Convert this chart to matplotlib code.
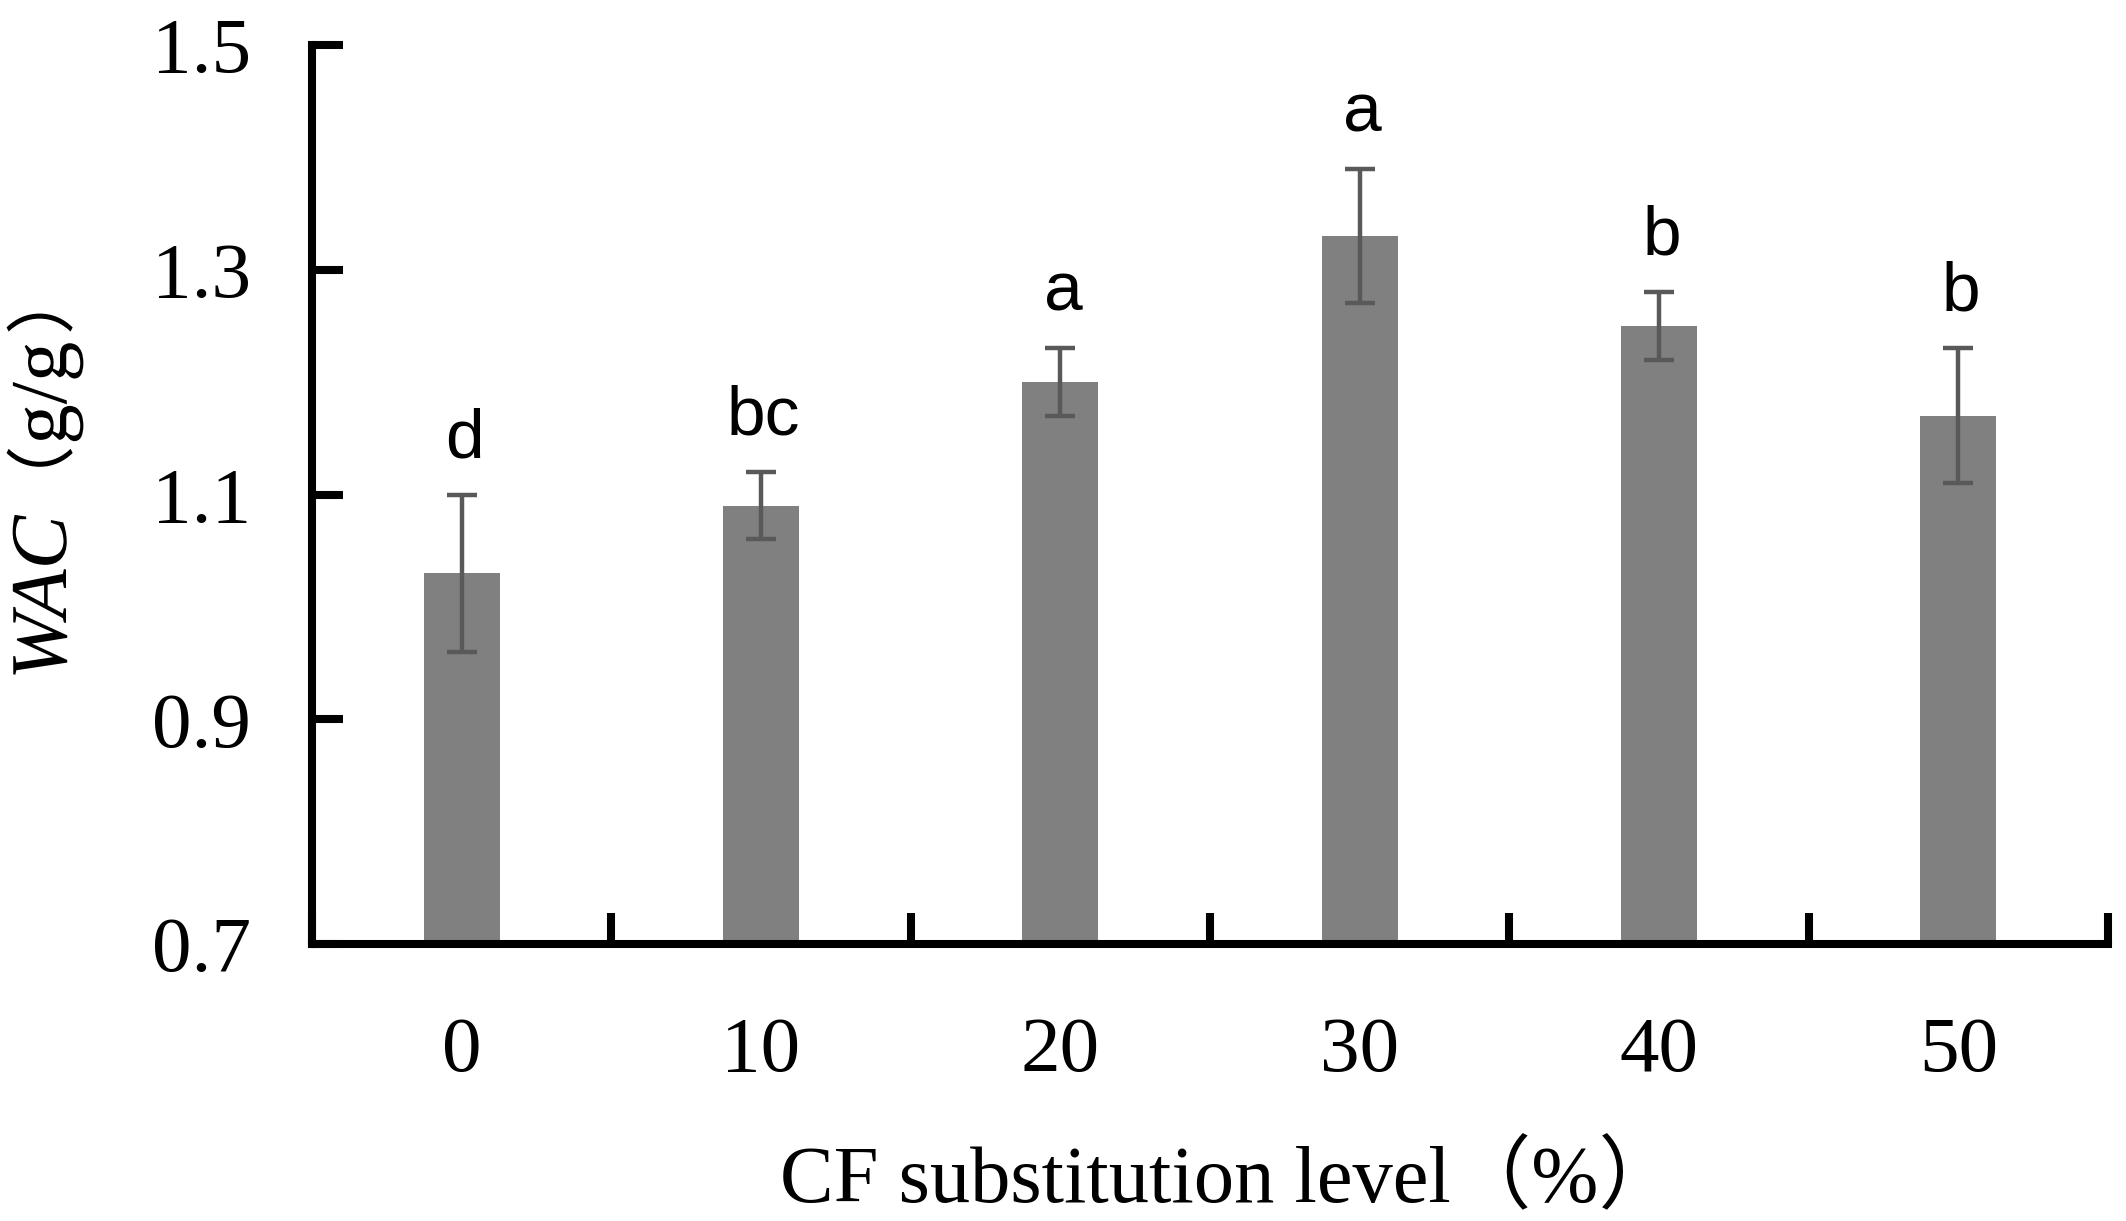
import matplotlib
matplotlib.use("Agg")
import matplotlib.pyplot as plt
import matplotlib.patheffects as pe
from matplotlib.font_manager import FontProperties, findfont, get_font
import numpy as np

# ---- data ----
categories = ["0", "10", "20", "30", "40", "50"]
wac_mean = [1.03, 1.09, 1.20, 1.33, 1.25, 1.17]
wac_err = [0.07, 0.03, 0.03, 0.06, 0.03, 0.06]
sig_letters = ["d", "bc", "a", "a", "b", "b"]
y_ticks = [0.7, 0.9, 1.1, 1.3, 1.5]
y_tick_labels = ["0.7", "0.9", "1.1", "1.3", "1.5"]

SERIF = ["Liberation Serif", "Noto Sans CJK SC"]
SANS = ["Liberation Sans", "DejaVu Sans"]

W, H = 2126, 1221
DPI = 100
fig = plt.figure(figsize=(W / DPI, H / DPI), dpi=DPI)
fig.patch.set_facecolor("white")
ax = fig.add_axes([312 / W, 1 - 944 / H, (2108 - 312) / W, (944 - 45) / H])

x = np.arange(len(categories))
ax.bar(x, wac_mean, width=0.255, color="#808080", zorder=2)
ax.errorbar(x, wac_mean, yerr=wac_err, fmt="none", ecolor="#595959",
            elinewidth=3.2, capsize=11, capthick=3.2, zorder=3)

for xi, m, e, lab in zip(x, wac_mean, wac_err, sig_letters):
    ax.annotate(lab, (xi, m + e), xytext=(2, 27), textcoords="offset points",
                ha="center", va="baseline", fontsize=50, family=SANS)

ax.set_xlim(-0.5, len(categories) - 0.5)
ax.set_ylim(0.7, 1.5)

ax.spines["top"].set_visible(False)
ax.spines["right"].set_visible(False)
for s in ("left", "bottom"):
    ax.spines[s].set_linewidth(5.8)
    ax.spines[s].set_color("black")
    ax.spines[s].set_capstyle("projecting")

ax.set_yticks(y_ticks)
ax.set_yticklabels(y_tick_labels, family=SERIF, fontsize=57)
ax.tick_params(axis="y", direction="in", length=22, width=5.8, pad=44)

ax.set_xticks(np.arange(len(categories) + 1) - 0.5)
ax.set_xticklabels([])
ax.set_xticks(x, minor=True)
ax.set_xticklabels(categories, minor=True, family=SERIF, fontsize=57)
ax.tick_params(axis="x", which="major", direction="in", length=22, width=5.8)
ax.tick_params(axis="x", which="minor", length=0, pad=52)

# x label
fig.text(780 / W, 1 - 1202 / H, "CF substitution level（%）", ha="left",
         va="baseline", fontsize=58, family=SERIF)


# y label: italic WAC + （g/g）, stacked bottom-to-top as separate rotated texts.
# Drawn through path effects so rotated glyphs keep their true bearings.
def advance_px(txt, prop, size):
    font = get_font(findfont(prop))
    font.set_size(size, DPI)
    adv = 0.0
    for ch in txt:
        g = font.load_char(ord(ch))
        adv += g.linearHoriAdvance / 65536.0
    return adv


baseline_px = 66           # x pixel of the rotated baseline
pos_px = H - 680           # pixel (from bottom) where the label starts
pieces = [("WAC", FontProperties(family="Liberation Serif", style="italic"), 58, 0),
          ("（", FontProperties(family="Noto Sans CJK SC"), 50, -5),
          ("g/g", FontProperties(family="Liberation Serif"), 58, 1),
          ("）", FontProperties(family="Noto Sans CJK SC"), 50, 7)]
for txt, prop, size, shift in pieces:
    pos_px += shift
    fig.text(baseline_px / W, pos_px / H, txt, rotation=90,
             rotation_mode="anchor", ha="left", va="baseline",
             fontproperties=prop, fontsize=size,
             path_effects=[pe.Normal()])
    pos_px += advance_px(txt, prop, size)

fig.savefig("out.png", dpi=DPI, facecolor="white")
